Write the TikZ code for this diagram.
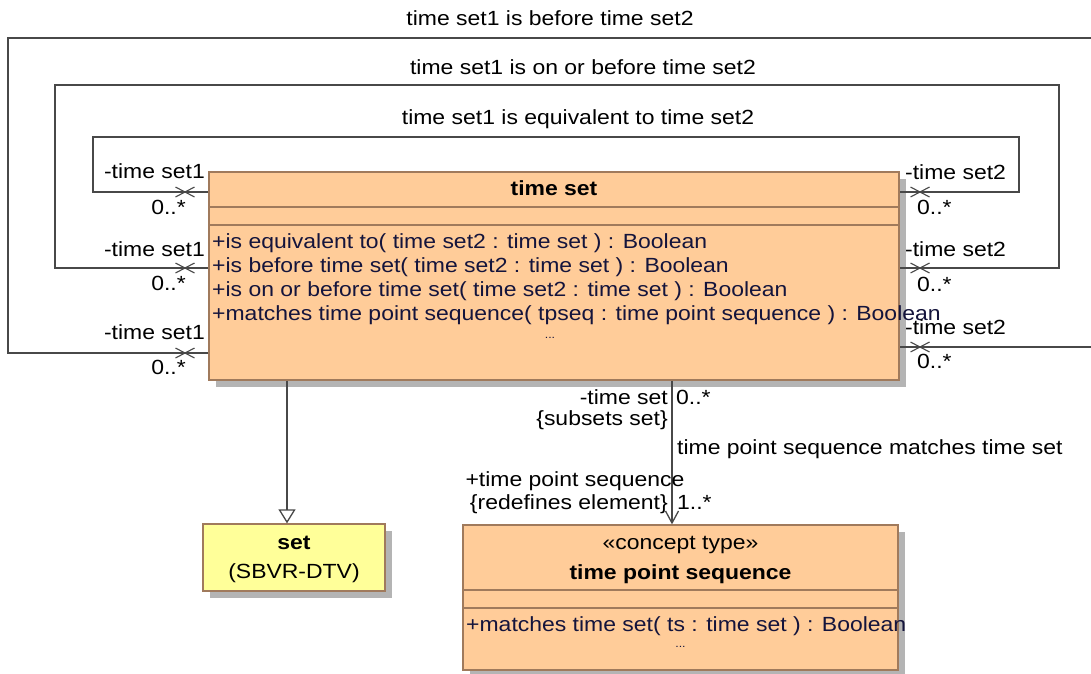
\documentclass[tikz,border=0pt]{standalone}
\usepackage{fontspec}
\setmainfont{Liberation Sans}[FakeStretch=1.12]
\usetikzlibrary{arrows.meta,shadows}
\definecolor{umlfill}{RGB}{255,204,153}
\definecolor{umlborder}{RGB}{160,122,92}
\definecolor{umlyellow}{RGB}{255,255,153}
\definecolor{shadowgray}{RGB}{180,180,180}
\definecolor{linegray}{RGB}{72,72,72}
\definecolor{optext}{RGB}{20,20,60}
\begin{document}
\begin{tikzpicture}[x=1pt,y=-1pt,
  font=\fontsize{20.5}{24}\selectfont,
  umlshadow/.style={drop shadow={shadow xshift=7pt,shadow yshift=-7pt,fill=shadowgray,opacity=1}},
  classbox/.style={draw=umlborder,line width=1.3pt,fill=umlfill,inner sep=0pt,umlshadow},
  setbox/.style={draw=umlborder,line width=1.3pt,fill=umlyellow,inner sep=0pt,umlshadow},
  sep/.style={draw=umlborder,line width=1.3pt},
  conn/.style={draw=linegray,line width=1.3pt},
  lbl/.style={inner sep=0pt,text height=13pt,text depth=1pt},
  ttl/.style={lbl,font=\fontsize{20.5}{24}\selectfont\bfseries},
  op/.style={lbl,text=optext,anchor=west},
  dots/.style={inner sep=0pt,font=\fontsize{11}{13}\selectfont,text=optext},
  xm/.pic={\draw[conn,line width=1.1pt] (-9.5,-5) -- (9.5,5) (-9.5,5) -- (9.5,-5);}
]
\clip (0,0) rectangle (1091,673);
\fill[white] (0,0) rectangle (1091,673);

% boxes
\node[classbox,minimum width=690pt,minimum height=208pt] (ts) at (554,276) {};
\node[setbox,minimum width=182pt,minimum height=67pt] (setb) at (294,557.5) {};
\node[classbox,minimum width=435pt,minimum height=145pt] (tps) at (680.5,597.5) {};

% compartments
\draw[sep] (ts.west |- 0,207) -- (ts.east |- 0,207);
\draw[sep] (ts.west |- 0,225) -- (ts.east |- 0,225);
\draw[sep] (tps.west |- 0,590) -- (tps.east |- 0,590);
\draw[sep] (tps.west |- 0,608) -- (tps.east |- 0,608);

% time set contents
\node[ttl] (tsname) at (554,189) {time set};
\node[op] (op1) at (212,242) {+is equivalent to( time set2 : time set ) : Boolean};
\node[op] (op2) at (212,266) {+is before time set( time set2 : time set ) : Boolean};
\node[op] (op3) at (212,290) {+is on or before time set( time set2 : time set ) : Boolean};
\node[op] (op4) at (212,314) {+matches time point sequence( tpseq : time point sequence ) : Boolean};
\node[dots] (tsdots) at (550,338) {...};

% set contents
\node[ttl] (setname) at (294,543) {set};
\node[lbl] (setpkg) at (294,572) {(SBVR-DTV)};

% time point sequence contents
\node[lbl] (tpsst) at (680.5,543) {«concept type»};
\node[ttl] (tpsname) at (680.5,573) {time point sequence};
\node[op] (tpsop) at (466,625) {+matches time set( ts : time set ) : Boolean};
\node[dots] (tpsdots) at (680.5,647) {...};

% self associations
\coordinate (L1) at (93,192);  \coordinate (R1) at (1019,192);
\coordinate (L2) at (55,268);  \coordinate (R2) at (1059,268);
\coordinate (L3) at (8,353);   \coordinate (R3) at (1100,347);
\draw[conn] (ts.west |- L1) -- (L1) -- (93,137) -- (1019,137) -- (R1) -- (ts.east |- R1);
\draw[conn] (ts.west |- L2) -- (L2) -- (55,85) -- (1059,85) -- (R2) -- (ts.east |- R2);
\draw[conn] (ts.west |- L3) -- (L3) -- (8,38) -- (1100,38) -- (R3) -- (ts.east |- R3);

\pic at (185,192) {xm}; \pic at (920,192) {xm};
\pic at (185,268) {xm}; \pic at (920,268) {xm};
\pic at (185,353) {xm}; \pic at (920,347) {xm};

\node[lbl] (a1) at (550,19) {time set1 is before time set2};
\node[lbl] (a2) at (583,68) {time set1 is on or before time set2};
\node[lbl] (a3) at (578,118) {time set1 is equivalent to time set2};

\node[lbl,anchor=east] (l1r) at (205,172) {-time set1};
\node[lbl,anchor=east] (l1m) at (186,208) {0..*};
\node[lbl,anchor=east] (l2r) at (205,250) {-time set1};
\node[lbl,anchor=east] (l2m) at (186,284) {0..*};
\node[lbl,anchor=east] (l3r) at (205,333) {-time set1};
\node[lbl,anchor=east] (l3m) at (186,368) {0..*};

\node[lbl,anchor=west] (r1r) at (905,173) {-time set2};
\node[lbl,anchor=west] (r1m) at (917,208) {0..*};
\node[lbl,anchor=west] (r2r) at (905,250) {-time set2};
\node[lbl,anchor=west] (r2m) at (917,285) {0..*};
\node[lbl,anchor=west] (r3r) at (905,328) {-time set2};
\node[lbl,anchor=west] (r3m) at (917,362) {0..*};

% generalization
\coordinate (G) at (287,0);
\draw[conn,-{Triangle[open,length=14pt,width=17pt,fill=white]}] (ts.south -| G) -- (setb.north -| G);

% association
\coordinate (A) at (672,0);
\draw[conn,-{Straight Barb[length=12pt,width=13pt]}] (ts.south -| A) -- (tps.north -| A);
\node[lbl,anchor=east] (e1r) at (668,398) {-time set};
\node[lbl,anchor=west] (e1m) at (676,398) {0..*};
\node[lbl,anchor=east] (e1c) at (668,419) {\{subsets set\}};
\node[lbl,anchor=west] (an) at (677,448) {time point sequence matches time set};
\node[lbl] (e2r) at (575,480) {+time point sequence};
\node[lbl,anchor=east] (e2c) at (668,503) {\{redefines element\}};
\node[lbl,anchor=west] (e2m) at (677,503) {1..*};
\end{tikzpicture}
\end{document}
